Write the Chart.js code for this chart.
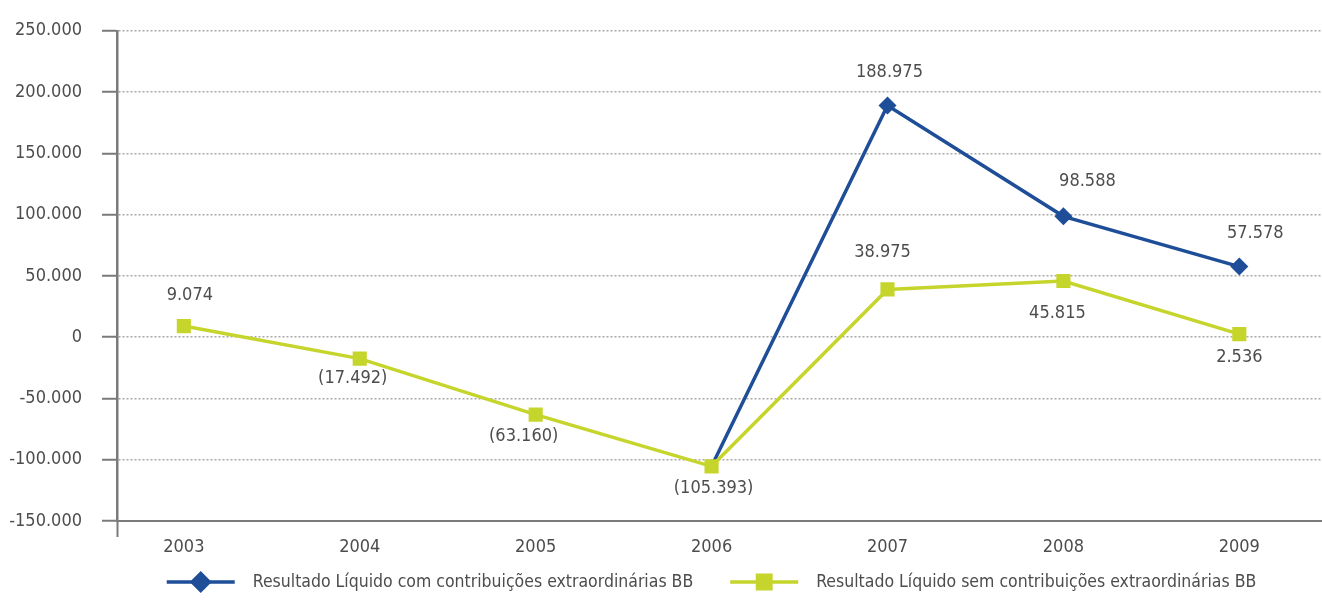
<!DOCTYPE html>
<html>
<head>
<meta charset="utf-8">
<script src="https://cdn.jsdelivr.net/npm/chart.js@4.4.1/dist/chart.umd.min.js"></script>
<style>
  html, body { margin: 0; padding: 0; background: #fff; overflow: hidden; }
  #wrap { width: 1322px; height: 606px; position: relative; }
  canvas { display: block; }
</style>
</head>
<body>
<div id="wrap"><canvas id="resultado-chart"></canvas></div>
<script>
const anos = [2003, 2004, 2005, 2006, 2007, 2008, 2009]
const comContribuicoes = [null, null, null, -105393, 188975, 98588, 57578]
const semContribuicoes = [9074, -17492, -63160, -105393, 38975, 45815, 2536]
const yTicks = [-150000, -100000, -50000, 0, 50000, 100000, 150000, 200000, 250000]
const legendas = [
    'Resultado Líquido com contribuições extraordinárias BB',
    'Resultado Líquido sem contribuições extraordinárias BB'
]

// where each value label sits relative to its point, [dx, dy]
const offsetCom = [null, null, null, null, [2, -33], [24, -35], [16, -33]]
const offsetSem = [[6, -31], [-7, 20], [-12, 22], [2, 22], [-5, -37], [-6, 32], [0, 23]]

const AZUL = '#1f4e98'
const VERDE = '#c5d52c'
const TEXTO = '#4d4d4d'
const EIXO = '#7a7a7a'
const FONTE = "'DejaVu Sans Condensed', 'Liberation Sans', sans-serif"

Chart.defaults.font.family = FONTE
Chart.defaults.font.size = 18
Chart.defaults.color = TEXTO

function fmt(v) {
    const s = Math.abs(v).toString().replace(/\B(?=(\d{3})+(?!\d))/g, '.')
    return v < 0 ? '-' + s : s
}

function fmtRotulo(v) {
    return v < 0 ? '(' + fmt(-v) + ')' : fmt(v)
}

const valueLabels = {
    id: 'valueLabels',
    afterDatasetsDraw(chart) {
        const ctx = chart.ctx
        ctx.save()
        ctx.font = '18px ' + FONTE
        ctx.fillStyle = TEXTO
        ctx.textAlign = 'center'
        ctx.textBaseline = 'middle'
        chart.data.datasets.forEach((ds, i) => {
            const meta = chart.getDatasetMeta(i)
            meta.data.forEach((pt, j) => {
                const off = ds.offsets[j]
                if (!off || ds.data[j].y === null) return
                ctx.fillText(fmtRotulo(ds.data[j].y), pt.x + off[0], pt.y + off[1])
            })
        })
        ctx.restore()
    }
}

// line + marker legend under the axis
const legendaLinha = {
    id: 'legendaLinha',
    afterDraw(chart) {
        const ctx = chart.ctx
        const area = chart.chartArea
        const y = 582
        const lineW = 68, gap = 18, sep = 37
        ctx.save()
        ctx.font = '17.5px ' + FONTE
        const items = chart.data.datasets.map(ds => ({ ds, w: ctx.measureText(ds.label).width }))
        let total = items.reduce((s, it) => s + lineW + gap + it.w, 0) + sep * (items.length - 1)
        let x = (area.left + area.right) / 2 - total / 2 - 8
        items.forEach(it => {
            const ds = it.ds
            ctx.strokeStyle = ds.borderColor
            ctx.lineWidth = 3.5
            ctx.beginPath()
            ctx.moveTo(x, y)
            ctx.lineTo(x + lineW, y)
            ctx.stroke()
            Chart.helpers.drawPoint(ctx, {
                pointStyle: ds.pointStyle,
                radius: ds.legendRadius,
                borderWidth: 1
            }, x + lineW / 2, y)
            ctx.fillStyle = ds.borderColor
            ctx.fill()
            ctx.fillStyle = TEXTO
            ctx.textAlign = 'left'
            ctx.textBaseline = 'middle'
            ctx.fillText(ds.label, x + lineW + gap, y)
            x += lineW + gap + it.w + sep
        })
        ctx.restore()
    }
}

new Chart(document.getElementById('resultado-chart'), {
    type: 'line',
    data: {
        datasets: [
            {
                label: legendas[0],
                data: comContribuicoes.map((v, i) => ({ x: anos[i], y: v })),
                offsets: offsetCom,
                borderColor: AZUL,
                backgroundColor: AZUL,
                borderWidth: 3.5,
                pointStyle: 'rectRot',
                legendRadius: 8.5,
                pointRadius: c => semContribuicoes[c.dataIndex] === comContribuicoes[c.dataIndex] ? 0 : 9,
                pointBorderWidth: 0,
                order: 1
            },
            {
                label: legendas[1],
                data: semContribuicoes.map((v, i) => ({ x: anos[i], y: v })),
                offsets: offsetSem,
                borderColor: VERDE,
                backgroundColor: VERDE,
                borderWidth: 3.5,
                pointStyle: 'rect',
                legendRadius: 9.5,
                pointRadius: 10,
                pointBorderWidth: 0,
                order: 0
            }
        ]
    },
    options: {
        responsive: true,
        maintainAspectRatio: false,
        animation: false,
        layout: {
            autoPadding: false,
            padding: { top: 25, right: 0, bottom: 0, left: 0 }
        },
        plugins: {
            legend: { display: false },
            tooltip: { enabled: false }
        },
        scales: {
            x: {
                type: 'linear',
                min: 2002.62,
                max: 2009.47,
                afterBuildTicks: scale => {
                    scale.ticks = [{ value: scale.min }].concat(anos.map(a => ({ value: a })))
                },
                afterFit: scale => {
                    scale.height = 85
                    scale.paddingLeft = 0
                    scale.paddingRight = 0
                },
                ticks: {
                    padding: 0,
                    callback: v => anos.includes(v) ? String(v) : ''
                },
                grid: {
                    drawOnChartArea: false,
                    drawTicks: true,
                    tickLength: 16,
                    tickWidth: 2,
                    tickColor: c => (c.tick && anos.includes(c.tick.value)) ? 'rgba(0,0,0,0)' : EIXO
                },
                border: { color: EIXO, width: 2 }
            },
            y: {
                min: -150000,
                max: 250000,
                afterBuildTicks: scale => {
                    scale.ticks = yTicks.map(v => ({ value: v }))
                },
                afterFit: scale => { scale.width = 117 },
                ticks: {
                    padding: 20,
                    callback: v => fmt(v)
                },
                grid: {
                    color: '#a8a8a8',
                    lineWidth: 1.5,
                    tickLength: 15,
                    tickWidth: 2,
                    tickColor: EIXO,
                    tickBorderDash: []
                },
                border: { color: EIXO, width: 2.5, dash: [2, 2] }
            }
        }
    },
    plugins: [valueLabels, legendaLinha]
});
</script>
</body>
</html>
